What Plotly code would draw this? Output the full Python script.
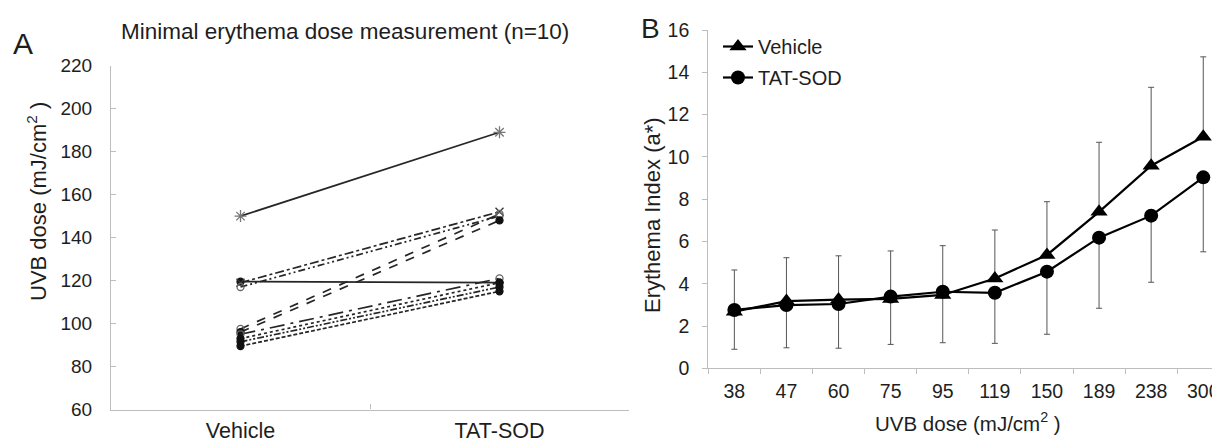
import plotly.graph_objects as go

# ---------------- data ----------------
groups = ["Vehicle", "TAT-SOD"]
med_vehicle = [150, 119.5, 119, 117, 97.5, 96, 95, 93, 91.5, 89.5]
med_tatsod = [189, 119, 152, 150, 151, 148, 121, 119, 117, 115]

doses = ["38", "47", "60", "75", "95", "119", "150", "189", "238", "300"]
ei_vehicle = [2.68, 3.18, 3.25, 3.28, 3.47, 4.25, 5.36, 7.40, 9.58, 10.95]
ei_vehicle_sd = [1.97, 2.05, 2.07, 2.27, 2.33, 2.29, 2.52, 3.29, 3.71, 3.78]
ei_tatsod = [2.76, 2.99, 3.04, 3.39, 3.62, 3.57, 4.57, 6.18, 7.22, 9.03]
ei_tatsod_sd = [1.86, 2.02, 2.09, 2.26, 2.41, 2.39, 2.96, 3.34, 3.15, 3.52]

# ---------------- styles ----------------
# the page body has an 8px default margin, so the figure starts at (8, 8)
OFF = 8
W, H = 1220 - OFF, 441 - OFF
FONT = "Liberation Sans, Arial, sans-serif"
TXT = "#1e1e1e"
AXC = "#bdbdbd"

dash_styles = ["solid", "solid", "dashdot", "7px,3px,2px,3px,2px,3px", "dash", "dash",
               "longdashdot", "dot", "7px,2px,2px,2px,2px,2px", "4px,2px"]
marker_styles = ["asterisk-open", "circle", "x-thin-open", "circle-open", "circle-open",
                 "circle", "circle-open", "circle", "circle", "circle"]
marker_sizes = [10, 7, 8, 7, 7, 7, 7, 7, 7, 7]
marker_colors = ["#777", "#111", "#333", "#666", "#666", "#111", "#666", "#111", "#111", "#111"]


def px_x(p):
    return (p - OFF) / W


def px_y(p):
    return 1 - (p - OFF) / H


fig = go.Figure()

# Panel A: paired lines
for i in range(len(med_vehicle)):
    fig.add_trace(go.Scatter(
        x=groups, y=[med_vehicle[i], med_tatsod[i]],
        mode="lines+markers",
        line=dict(color="#262626", width=1.7, dash=dash_styles[i]),
        marker=dict(symbol=marker_styles[i], size=marker_sizes[i], color=marker_colors[i],
                    line=dict(color=marker_colors[i], width=1.3)),
        showlegend=False, xaxis="x", yaxis="y",
    ))

# Panel B
fig.add_trace(go.Scatter(
    x=doses, y=ei_vehicle, name="Vehicle", mode="lines+markers",
    line=dict(color="#000", width=2.2),
    marker=dict(symbol="triangle-up", size=15, color="#000"),
    error_y=dict(type="data", symmetric=False, array=ei_vehicle_sd,
                 arrayminus=[0] * len(ei_vehicle_sd), color="#555", thickness=1, width=3),
    xaxis="x2", yaxis="y2", legendgroup="v",
))
fig.add_trace(go.Scatter(
    x=doses, y=ei_tatsod, name="TAT-SOD", mode="lines+markers",
    line=dict(color="#000", width=2.2),
    marker=dict(symbol="circle", size=14, color="#000"),
    error_y=dict(type="data", symmetric=False, array=[0] * len(ei_tatsod_sd),
                 arrayminus=ei_tatsod_sd, color="#555", thickness=1, width=3),
    xaxis="x2", yaxis="y2", legendgroup="t",
))

axis_common = dict(showgrid=False, zeroline=False, showline=True, linecolor=AXC,
                   linewidth=1.2, automargin=False, tickcolor=AXC)

fig.update_layout(
    width=W, height=H,
    margin=dict(l=0, r=0, t=0, b=0),
    paper_bgcolor="white", plot_bgcolor="white",
    font=dict(family=FONT, color=TXT),
    xaxis=dict(domain=[px_x(111), px_x(629)], anchor="y", type="category",
               range=[-0.5, 1.5], tickson="boundaries", ticks="inside", ticklen=5,
               ticklabelstandoff=2, tickfont=dict(family=FONT, size=21.5, color=TXT),
               **axis_common),
    yaxis=dict(domain=[px_y(409.5), px_y(65.7)], anchor="x", range=[60, 220],
               tickvals=list(range(60, 221, 20)), ticks="inside", ticklen=5,
               ticklabelstandoff=14, tickfont=dict(family=FONT, size=19, color=TXT),
               **axis_common),
    xaxis2=dict(domain=[px_x(708.3), 1.0], anchor="y2", type="category",
                range=[-0.5, -0.5 + (1220 - 708.3) / 52.1], tickson="boundaries",
                ticks="outside", ticklen=5, ticklabelstandoff=5,
                tickfont=dict(family=FONT, size=19.5, color=TXT), **axis_common),
    yaxis2=dict(domain=[px_y(368.3), px_y(30)], anchor="x2", range=[0, 16],
                tickvals=list(range(0, 17, 2)), ticks="outside", ticklen=5,
                ticklabelstandoff=9, tickfont=dict(family=FONT, size=19.5, color=TXT),
                **axis_common),
    legend=dict(x=px_x(718), y=px_y(27), xanchor="left", yanchor="top",
                font=dict(family=FONT, size=20, color=TXT), bgcolor="rgba(0,0,0,0)",
                itemwidth=30, tracegroupgap=2),
    showlegend=True,
)

ann = [
    dict(text="A", x=px_x(23), y=px_y(44), font=dict(size=30)),
    dict(text="B", x=px_x(650), y=px_y(28), font=dict(size=28)),
    dict(text="Minimal erythema dose measurement (n=10)", x=px_x(345), y=px_y(32),
         font=dict(size=22.5)),
    dict(text="UVB dose (mJ/cm<sup>2</sup> )", x=px_x(37), y=px_y(202), textangle=-90,
         font=dict(size=22)),
    dict(text="Erythema Index (a*)", x=px_x(652), y=px_y(215), textangle=-90,
         font=dict(size=22)),
    dict(text="UVB dose (mJ/cm<sup>2</sup> )", x=px_x(968), y=px_y(422),
         font=dict(size=20.5)),
]
for a in ann:
    a.update(xref="paper", yref="paper", showarrow=False, xanchor="center", yanchor="middle")
    a["font"].update(family=FONT, color=TXT)
fig.update_layout(annotations=ann)

fig.write_html("out.html")
